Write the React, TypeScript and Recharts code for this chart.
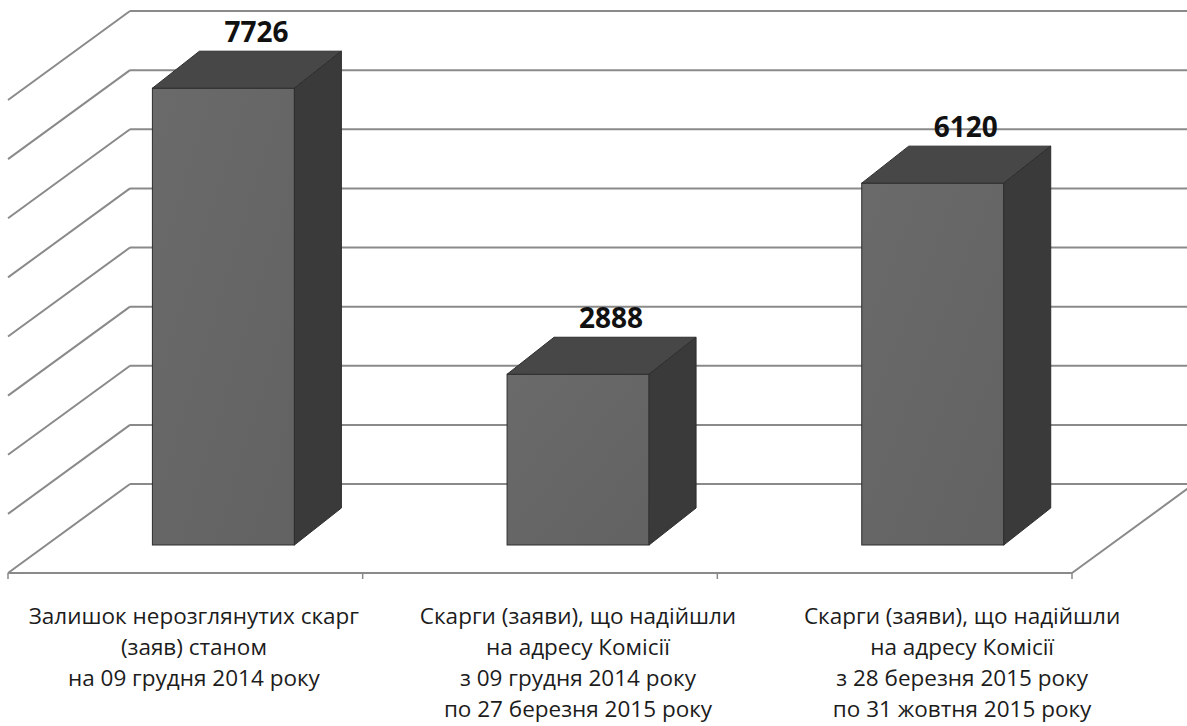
import { Bar, BarChart, CartesianGrid, LabelList, XAxis, YAxis } from "recharts";

const categoryLines = [
  ["Залишок нерозглянутих скарг", "(заяв) станом", "на 09 грудня 2014 року"],
  ["Скарги (заяви), що надійшли", "на адресу Комісії", "з 09 грудня 2014 року", "по 27 березня 2015 року"],
  ["Скарги (заяви), що надійшли", "на адресу Комісії", "з 28 березня 2015 року", "по 31 жовтня 2015 року"],
];
const values = [7726, 2888, 6120];
const yTicks = [0, 1000, 2000, 3000, 4000, 5000, 6000, 7000, 8000];

const data = categoryLines.map((lines, i) => ({ name: lines.join("\n"), value: values[i] }));

const W = 1187;
const H = 726;
const margin = { top: 72, right: 77, left: 46, bottom: 0 };

// oblique "3d" offsets
const BAR_DX = 47;
const BAR_DY = 37;
const BACK_DX = 84;
const BACK_DY = 61;
const FRONT_DX = -38;
const FRONT_DY = 28;
const GRID = "#8a8a8a";
const LABEL_SPREAD = 1.083;
const PLOT_MID = (margin.left + (W - margin.right)) / 2;

function GridLine(props: any) {
  const { x1, x2, y1, y, height, index } = props;
  const bx1 = x1 + BACK_DX;
  const bx2 = x2 + BACK_DX;
  const by = y1 - BACK_DY;
  const fx1 = x1 + FRONT_DX;
  const fx2 = x2 + FRONT_DX;
  const fy = y1 + FRONT_DY;
  const isFloor = Math.abs(y1 - (y + height)) < 1;
  const step = (fx2 - fx1) / categoryLines.length;
  return (
    <g key={`gl-${index}`}>
      <line x1={bx1} y1={by} x2={bx2} y2={by} stroke={GRID} strokeWidth={2} />
      <line x1={bx1} y1={by} x2={fx1} y2={fy} stroke={GRID} strokeWidth={2} />
      {isFloor && (
        <g>
          <line x1={fx1} y1={fy} x2={fx2} y2={fy} stroke={GRID} strokeWidth={2} />
          <line x1={bx2} y1={by} x2={fx2} y2={fy} stroke={GRID} strokeWidth={2} />
          {categoryLines.map((_, k) => (
            <line key={k} x1={fx1 + k * step} y1={fy} x2={fx1 + k * step} y2={fy + 6} stroke={GRID} strokeWidth={1.5} />
          ))}
          <line x1={fx2} y1={fy} x2={fx2} y2={fy + 6} stroke={GRID} strokeWidth={1.5} />
        </g>
      )}
    </g>
  );
}

function Box3D(props: any) {
  const { x, y, width: w, height: h } = props;
  const edge = "#2e2e2e";
  return (
    <g>
      <rect x={x} y={y} width={w} height={h} fill="url(#frontFill)" stroke={edge} strokeWidth={1} />
      <polygon
        points={`${x},${y} ${x + BAR_DX},${y - BAR_DY} ${x + w + BAR_DX},${y - BAR_DY} ${x + w},${y}`}
        fill="#474747"
        stroke={edge}
        strokeWidth={1}
      />
      <polygon
        points={`${x + w},${y} ${x + w + BAR_DX},${y - BAR_DY} ${x + w + BAR_DX},${y + h - BAR_DY} ${x + w},${y + h}`}
        fill="#3a3a3a"
        stroke={edge}
        strokeWidth={1}
      />
    </g>
  );
}

function ValueLabel(props: any) {
  const { x, y, width, value } = props;
  return (
    <text
      x={x + width / 2 + 33}
      y={y - 46}
      textAnchor="middle"
      fontFamily="'Open Sans', sans-serif"
      fontWeight={700}
      fontSize={28}
      fill="#111"
    >
      {value}
    </text>
  );
}

function CategoryTick(props: any) {
  const { x, y, payload } = props;
  const lines = String(payload.value).split("\n");
  const cx = PLOT_MID + (x - PLOT_MID) * LABEL_SPREAD;
  return (
    <text x={cx} y={y + 79} textAnchor="middle" fontFamily="'Open Sans', sans-serif" fontSize={22.5} fill="#1c1c1c">
      {lines.map((t, i) => (
        <tspan key={i} x={cx} dy={i === 0 ? 0 : 31}>
          {t}
        </tspan>
      ))}
    </text>
  );
}

export default function App() {
  return (
    <div style={{ position: "absolute", left: 0, top: 0, width: W, height: H, background: "#fff" }}>
      <BarChart width={W} height={H} data={data} margin={margin} barCategoryGap="30%">
        <defs>
          <linearGradient id="frontFill" x1="0" y1="0" x2="1" y2="1">
            <stop offset="0%" stopColor="#6a6a6a" />
            <stop offset="100%" stopColor="#626262" />
          </linearGradient>
        </defs>
        <CartesianGrid vertical={false} horizontal={GridLine} />
        <XAxis
          dataKey="name"
          height={181}
          axisLine={false}
          tickLine={false}
          tickSize={0}
          tickMargin={0}
          interval={0}
          tick={CategoryTick}
        />
        <YAxis hide domain={[0, 8000]} ticks={yTicks} />
        <Bar dataKey="value" shape={Box3D} isAnimationActive={false}>
          <LabelList dataKey="value" content={ValueLabel} />
        </Bar>
      </BarChart>
    </div>
  );
}
